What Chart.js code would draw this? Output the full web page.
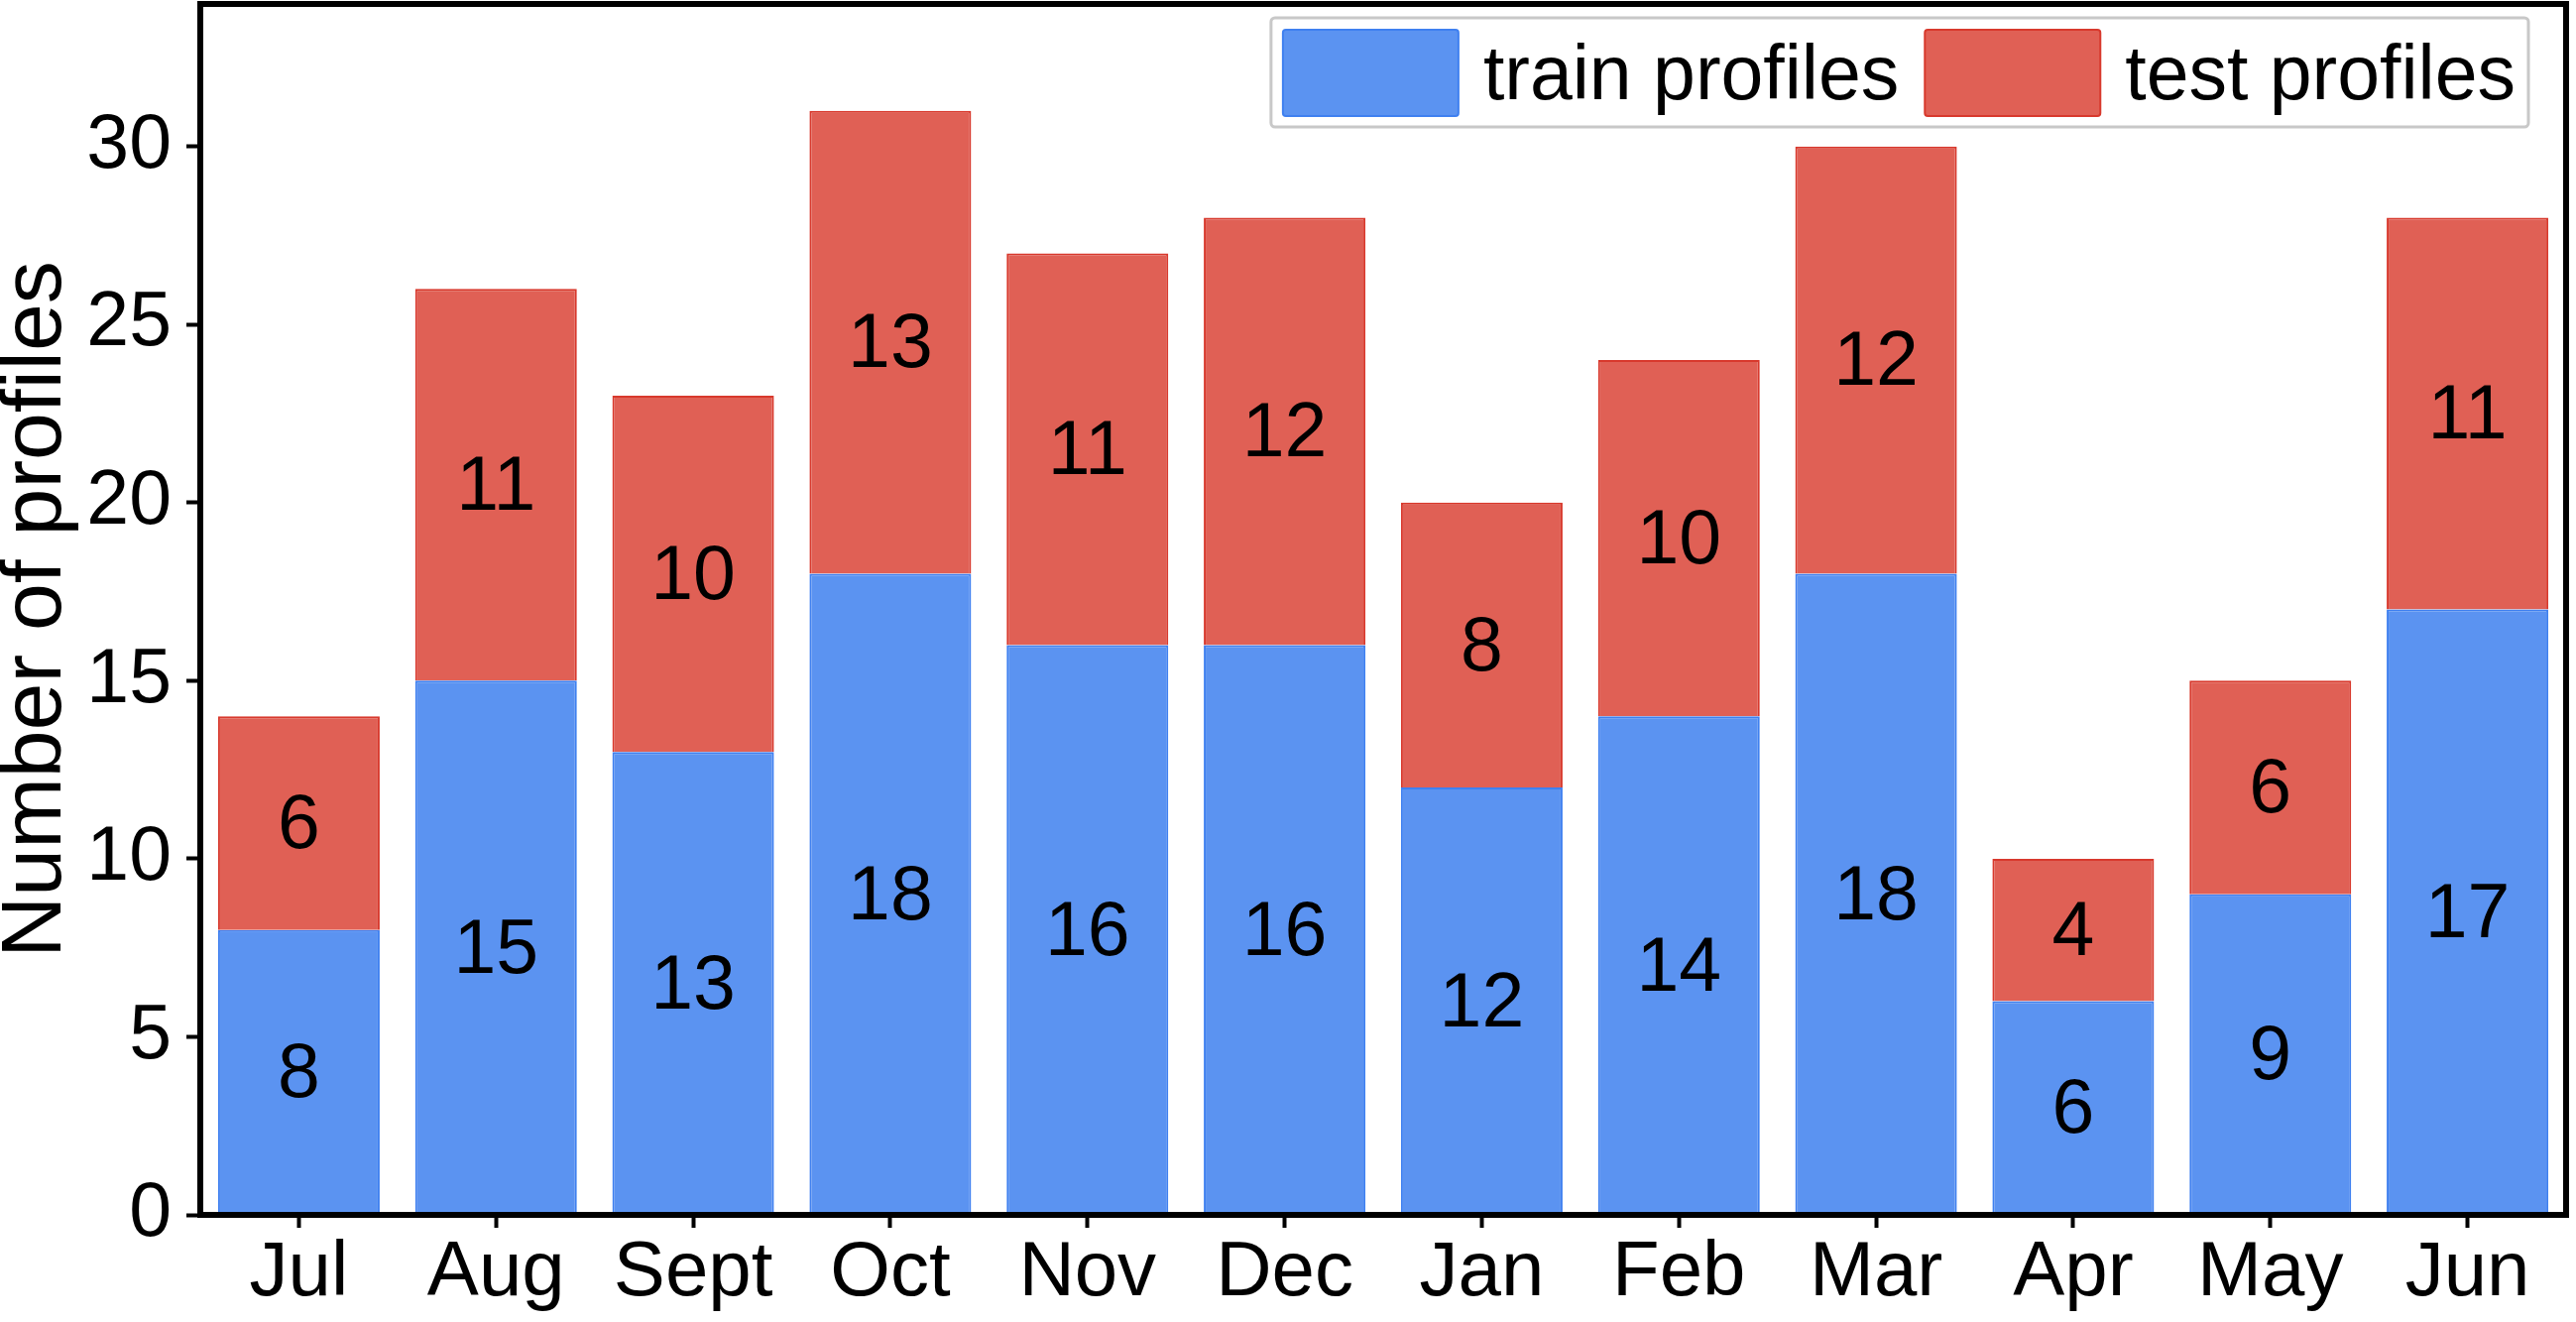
<!DOCTYPE html>
<html>
<head>
<meta charset="utf-8">
<script src="https://cdn.jsdelivr.net/npm/chart.js@4"></script>
<style>
    html, body { margin: 0; padding: 0; background: #ffffff; overflow: hidden; }
    #wrap { width: 2598px; height: 1333px; }
</style>
</head>
<body>
<div id="wrap"><canvas id="chartProfiles"></canvas></div>
<script>
// Months on the x axis
const months = ['Jul', 'Aug', 'Sept', 'Oct', 'Nov', 'Dec', 'Jan', 'Feb', 'Mar', 'Apr', 'May', 'Jun'];
// Profiles per month
const trainProfiles = [8, 15, 13, 18, 16, 16, 12, 14, 18, 6, 9, 17];
const testProfiles = [6, 11, 10, 13, 11, 12, 8, 10, 12, 4, 6, 11];
// Y axis
const yTicks = [0, 5, 10, 15, 20, 25, 30];
const yMax = 34;

const FONT = '"Liberation Sans", Arial, sans-serif';

/**
 * Write each segment's value in the middle of its bar
 */
const valueLabels = {
    id: 'valueLabels',
    afterDatasetsDraw: (chart) => {
        const ctx = chart.ctx;
        ctx.save();
        ctx.font = '77px ' + FONT;
        ctx.fillStyle = '#000000';
        ctx.textAlign = 'center';
        ctx.textBaseline = 'middle';
        chart.data.datasets.forEach((ds, i) => {
            chart.getDatasetMeta(i).data.forEach((bar, j) => {
                const { x, y, base } = bar.getProps(['x', 'y', 'base'], true);
                ctx.fillText(String(ds.data[j]), x, (y + base) / 2 + 4);
            });
        });
        ctx.restore();
    },
};

/**
 * Box round the plot plus the legend sitting inside it
 */
const frameAndLegend = {
    id: 'frameAndLegend',
    afterDraw: (chart) => {
        const ctx = chart.ctx;
        const { top, left, right, bottom } = chart.chartArea;
        ctx.save();

        // legend
        ctx.font = '77px ' + FONT;
        const sw = 177, sh = 87;
        const items = chart.data.datasets.map((ds) => ({
            label: ds.label,
            fill: ds.backgroundColor,
            edge: ds.borderColor,
            w: ctx.measureText(ds.label).width,
        }));
        let total = 12 + 13;
        items.forEach((it, i) => { total += sw + 25 + it.w + (i < items.length - 1 ? 26 : 0); });
        const boxRight = right - 38;
        const boxLeft = boxRight - total;
        const boxTop = top + 14, boxH = 110;
        ctx.fillStyle = '#ffffff';
        ctx.strokeStyle = '#c8c8c8';
        ctx.lineWidth = 3;
        ctx.beginPath();
        ctx.roundRect(boxLeft, boxTop, total, boxH, 4);
        ctx.fill();
        ctx.stroke();

        let x = boxLeft + 12;
        items.forEach((it) => {
            ctx.fillStyle = it.fill;
            ctx.strokeStyle = it.edge;
            ctx.lineWidth = 2;
            ctx.beginPath();
            ctx.roundRect(x, boxTop + 12, sw, sh, 3);
            ctx.fill();
            ctx.stroke();
            x += sw + 25;
            ctx.fillStyle = '#000000';
            ctx.textAlign = 'left';
            ctx.textBaseline = 'alphabetic';
            ctx.fillText(it.label, x, boxTop + 82);
            x += it.w + 26;
        });

        // plot frame
        ctx.strokeStyle = '#000000';
        ctx.lineWidth = 6;
        ctx.strokeRect(left, top, right - left, bottom - top);
        ctx.restore();
    },
};

new Chart(document.getElementById('chartProfiles'), {
    type: 'bar',
    data: {
        labels: months,
        datasets: [
            {
                label: 'train profiles',
                data: trainProfiles,
                backgroundColor: '#5b93f1',
                borderColor: '#3f80f0',
                borderWidth: 2,
            },
            {
                label: 'test profiles',
                data: testProfiles,
                backgroundColor: '#e06055',
                borderColor: '#d8392d',
                borderWidth: 2,
            },
        ],
    },
    plugins: [valueLabels, frameAndLegend],
    options: {
        responsive: true,
        maintainAspectRatio: false,
        animation: false,
        barPercentage: 0.82,
        categoryPercentage: 1,
        layout: { padding: { top: 4, right: 10, left: 0, bottom: 0 } },
        plugins: {
            legend: { display: false },
            tooltip: { enabled: false },
        },
        scales: {
            x: {
                stacked: true,
                border: { display: false },
                grid: {
                    offset: false,
                    drawOnChartArea: false,
                    drawTicks: true,
                    tickLength: 13,
                    tickWidth: 4,
                    tickColor: '#000000',
                },
                ticks: {
                    color: '#000000',
                    padding: 0,
                    font: { family: FONT, size: 78 },
                },
                afterFit: (scale) => {
                    scale.height = 108;
                    scale.paddingLeft = 0;
                    scale.paddingRight = 0;
                },
            },
            y: {
                stacked: true,
                min: 0,
                max: yMax,
                border: { display: false },
                grid: {
                    drawOnChartArea: false,
                    drawTicks: true,
                    tickLength: 14,
                    tickWidth: 4,
                    tickColor: '#000000',
                },
                ticks: {
                    color: '#000000',
                    padding: 15,
                    font: { family: FONT, size: 77 },
                },
                afterBuildTicks: (scale) => {
                    scale.ticks = yTicks.map((v) => ({ value: v }));
                },
                title: {
                    display: true,
                    text: 'Number of profiles',
                    color: '#000000',
                    padding: { top: 0, bottom: 0 },
                    font: { family: FONT, size: 86, lineHeight: 0.86 },
                },
                afterFit: (scale) => {
                    scale.width = 202;
                    scale.paddingTop = 0;
                    scale.paddingBottom = 0;
                },
            },
        },
    },
});
</script>
</body>
</html>
